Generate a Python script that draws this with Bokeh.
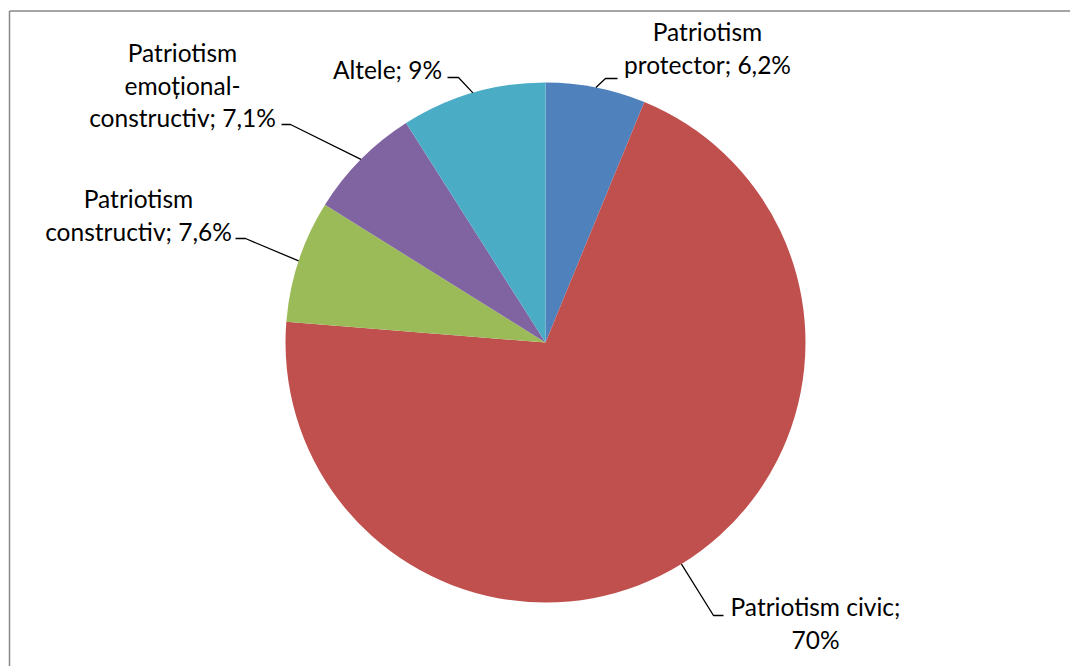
import numpy as np
from bokeh.plotting import figure
from bokeh.models import Range1d
from bokeh.core.properties import value
from bokeh.embed import file_html
from bokeh.resources import INLINE

# ---- data ----
categories = ["Patriotism protector", "Patriotism civic", "Patriotism constructiv",
              "Patriotism emoțional-constructiv", "Altele"]
values = [6.2, 70, 7.6, 7.1, 9]
colors = ["#4F81BD", "#C0504D", "#9BBB59", "#8064A2", "#4BACC6"]

# ---- layout (page pixel coordinates) ----
W, H = 1070, 666
PAGE_OFF = 0
CX, CY, R = 545, 342, 260          # pie centre / radius on page
FONT = "Lato"
FONT_SIZE = "24.5px"
LINE_STEP = 32.5
BASE_SHIFT = -9
WRAP = 17
# per label: text centre x, first baseline y, elbow point, end of leader
label_layout = [
    dict(cx=707, base=40, elbow=(605, 78), end=(617, 78)),
    dict(cx=815, base=615, elbow=(713, 615), end=(723, 615)),
    dict(cx=138, base=207, elbow=(245, 238), end=(235, 238)),
    dict(cx=182, base=61, elbow=(290, 124), end=(281, 124)),
    dict(cx=387, base=78, elbow=(458, 77), end=(447, 77)),
]
BORDER = dict(x=9, y=10.5, color="#898989", width=1.5)


def fmt(v):
    s = ("%g" % v).replace(".", ",")
    return s + "%"


def wrap(text, width):
    # tokens: split at spaces, and after hyphens
    toks = []
    for i, w in enumerate(text.split(" ")):
        parts = w.split("-")
        for j, part in enumerate(parts):
            t = part + ("-" if j < len(parts) - 1 else "")
            sep = "" if j > 0 else (" " if i > 0 else "")
            toks.append((sep, t))
    lines, cur = [], ""
    for sep, t in toks:
        cand = (cur + sep + t) if cur else t
        if cur and len(cand) > width:
            lines.append(cur)
            cur = t
        else:
            cur = cand
    if cur:
        lines.append(cur)
    return lines


def to_data(x, y):
    return x - CX, CY - y


p = figure(width=W, height=H, output_backend="svg", toolbar_location=None,
           x_range=Range1d(PAGE_OFF - CX, PAGE_OFF + W - CX),
           y_range=Range1d(CY - PAGE_OFF - H, CY - PAGE_OFF),
           min_border=0)
p.axis.visible = False
p.grid.visible = False
p.outline_line_color = None
p.background_fill_color = "white"

total = sum(values)
cum = np.concatenate([[0], np.cumsum(values)])
start = np.pi / 2 - 2 * np.pi * cum[:-1] / total
end = np.pi / 2 - 2 * np.pi * cum[1:] / total
p.wedge(x=0, y=0, radius=R, start_angle=start, end_angle=end, direction="clock",
        fill_color=colors, line_color=None)

# leaders & labels
xs, ys = [], []
tx, ty, tt = [], [], []
for cat, v, lay, a0, a1 in zip(categories, values, label_layout, start, end):
    mid = (a0 + a1) / 2
    sx, sy = R * np.cos(mid), R * np.sin(mid)
    ex, ey = to_data(*lay["elbow"])
    fx, fy = to_data(*lay["end"])
    xs.append([sx, ex, fx])
    ys.append([sy, ey, fy])
    lines = wrap(f"{cat}; {fmt(v)}", WRAP)
    for k, ln in enumerate(lines):
        x, y = to_data(lay["cx"], lay["base"] + BASE_SHIFT + k * LINE_STEP)
        tx.append(x); ty.append(y); tt.append(ln)

p.multi_line(xs=xs, ys=ys, line_color="black", line_width=1.3)
p.text(x=tx, y=ty, text=tt, text_align="center", text_baseline="alphabetic",
       text_font=value(FONT), text_font_size=FONT_SIZE, text_color="black")

# chart-area border (only top & left visible in the reference crop)
x0, y0 = to_data(BORDER["x"], BORDER["y"])
x1, y1 = to_data(PAGE_OFF + W, PAGE_OFF + H)
p.segment(x0=[x0, x0], y0=[y0, y0], x1=[x1, x0], y1=[y0, y1],
          line_color=BORDER["color"], line_width=BORDER["width"])

open("out.html", "w").write(file_html(p, INLINE))
